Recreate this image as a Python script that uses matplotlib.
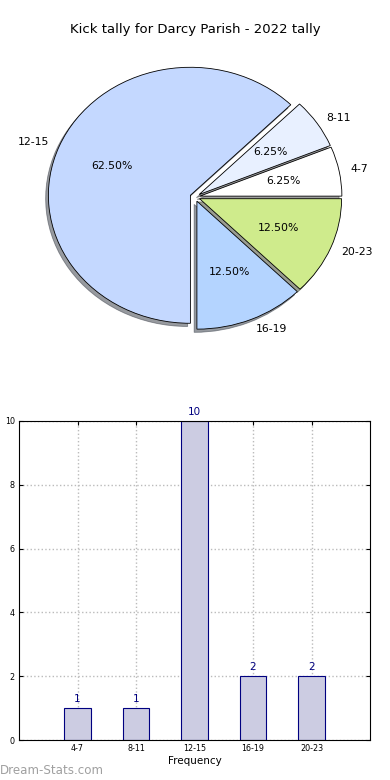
import numpy as np
import matplotlib.pyplot as plt

# ── data ─────────────────────────────────────────────────────────────
bins = ['4-7', '8-11', '12-15', '16-19', '20-23']
counts = [1, 1, 10, 2, 2]
slice_colors = ['#ffffff', '#e8f0ff', '#c4d8ff', '#b4d4ff', '#cfeb8c']

title = 'Kick tally for Darcy Parish - 2022 tally'

fig = plt.figure(figsize=(3.9, 7.8), dpi=100)
W, H = 390.0, 780.0

# ── 1. Pie ───────────────────────────────────────────────────────────
cx, cy, rx, ry, lim = 195, 197, 142, 128, 1.3
ax1 = fig.add_axes([(cx - lim * rx) / W, 1 - (cy + lim * ry) / H,
                    2 * lim * rx / W, 2 * lim * ry / H])
wedges, texts, autotexts = ax1.pie(
    counts, labels=bins, colors=slice_colors, explode=[0.035] * len(counts),
    startangle=0, shadow={'ox': -0.014, 'oy': -0.018, 'shade': 0.75},
    autopct='%1.2f%%', pctdistance=0.6, labeldistance=1.08,
    wedgeprops=dict(edgecolor='black', linewidth=0.6),
    textprops=dict(fontsize=7.8))
ax1.set_aspect('auto')
ax1.set_xlim(-lim, lim)
ax1.set_ylim(-lim, lim)
ax1.axis('off')

fig.text(0.5, 1 - 30 / H, title, ha='center', va='center', fontsize=9.5)

# ── 2. Bars ──────────────────────────────────────────────────────────
ax2 = fig.add_axes([19 / W, 1 - 740 / H, 351 / W, 319 / H])
x = np.arange(len(bins))
ax2.bar(x, counts, width=0.45, color='#ccccE2', edgecolor='navy',
        linewidth=0.8, zorder=2)
for xi, c in zip(x, counts):
    ax2.text(xi, c + 0.12, str(c), ha='center', va='bottom',
             color='navy', fontsize=7.5)
ax2.set_xlim(-1, 5)
ax2.set_ylim(0, 10)
ax2.set_xticks(x)
ax2.set_xticklabels(bins)
ax2.set_yticks(range(0, 11, 2))
ax2.tick_params(labelsize=5.8, direction='in', top=True, right=True,
                length=3, pad=3)
ax2.grid(True, linestyle=':', color='#bbbbbb', linewidth=1, zorder=0)
ax2.set_xlabel('Frequency', fontsize=7.5, labelpad=2)
ax2.set_ylabel('Number of Games', fontsize=7.5)
ax2.yaxis.set_label_coords(-0.062, 0.5)
for s in ax2.spines.values():
    s.set_linewidth(0.8)

fig.text(0.0, 1 - 771 / H, 'Dream-Stats.com', ha='left', va='center',
         fontsize=8.6, color='#a0a0a0')

plt.savefig('out.png', dpi=100)
plt.close()
